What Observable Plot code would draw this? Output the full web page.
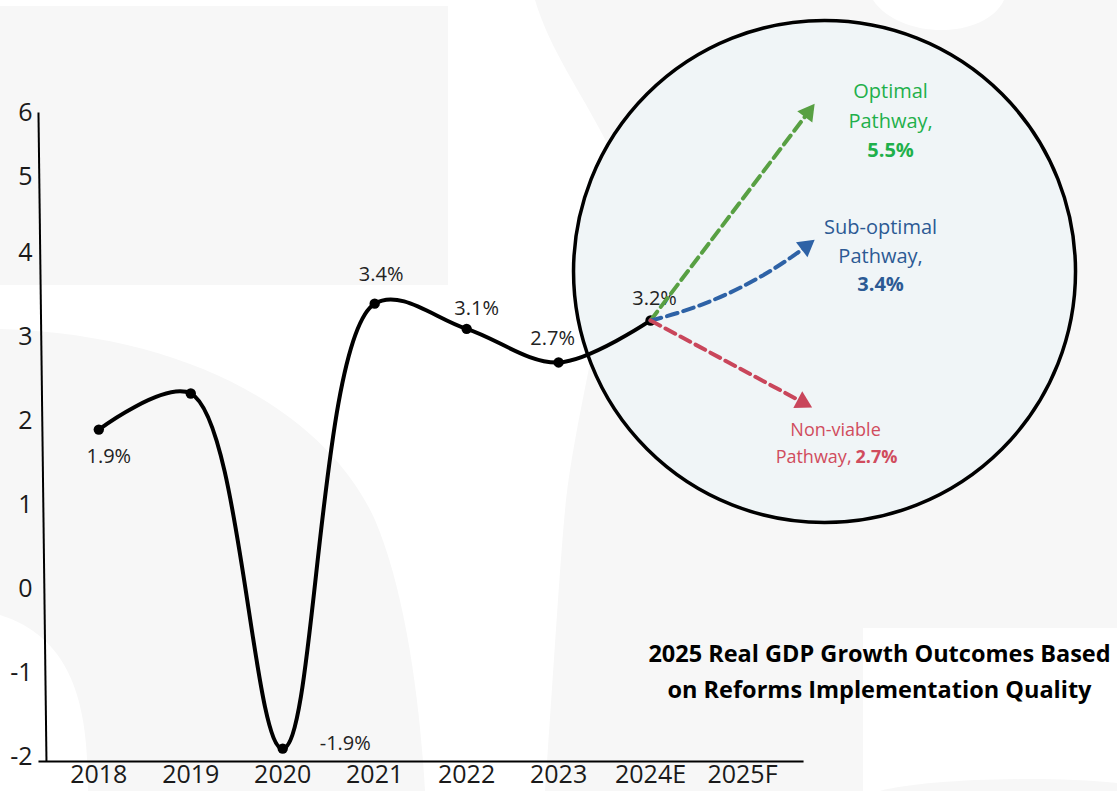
<!DOCTYPE html>
<html><head><meta charset="utf-8">
<script src="https://cdn.jsdelivr.net/npm/d3@7"></script>
<script src="https://cdn.jsdelivr.net/npm/@observablehq/plot@0.6"></script>
<style>
html,body{margin:0;padding:0;background:#fff;}
#wrap{position:relative;width:1117px;height:791px;overflow:hidden;font-family:"Open Sans",sans-serif;}
#bg{position:absolute;left:0;top:0;}
#chart{position:absolute;left:0;top:0;}
</style></head><body>
<div id="wrap">
<svg id="bg" width="1117" height="791" viewBox="0 0 1117 791">
  <g fill="#f7f7f7">
    <rect x="0" y="6" width="448" height="279"/>
    <path d="M0,329 C200,335 330,420 375,520 C405,590 420,700 425,791 L88,791 C88,720 80,640 0,615 Z"/>
    <path d="M535,0 L873,0 C900,40 985,40 1004,0 L1117,0 L1117,628 L863,628 L863,791 L545,791 C555,650 560,560 566,500 C580,380 630,230 607,143 C580,90 550,50 535,0 Z"/>
    <path d="M880,791 C920,780 1040,775 1117,783 L1117,791 Z"/>
  </g>
</svg>
<div id="chart"></div>
</div>
<script>
// ---- data ----
const categories = ["2018", "2019", "2020", "2021", "2022", "2023", "2024E", "2025F"];
const gdpGrowth = [1.9, 2.33, -1.9, 3.4, 3.1, 2.7, 3.2];
const gdpLabels = ["1.9%", "", "-1.9%", "3.4%", "3.1%", "2.7%", "3.2%"];
const yTicks = [-2, -1, 0, 1, 2, 3, 4, 5, 6];
const pathwayNames = ["Optimal", "Sub-optimal", "Non-viable"];
const pathwayValues = [5.5, 3.4, 2.7];
const titleText = "2025 Real GDP Growth Outcomes Based\non Reforms Implementation Quality";

// ---- layout (positions / styles) ----
const xOpts = {type: "linear", domain: [0, 7], range: [98.3, 742]};
const yOpts = {type: "linear", domain: [-2, 4, 5, 6], range: [756.5, 252.8, 176, 112]};
const startIdx = 6; // 2024E
const arrowEnds = [[7.713, 6.0], [7.691, 4.09], [7.653, 2.226]];
const arrowBend = [0, -12, 0];
const arrowColor = ["#58a043", "#2e62a6", "#c9465b"];
const textColor = ["#1fb04b", "#2c5a94", "#d04c5d"];
const FONT = "Open Sans";

const pts = gdpGrowth.map((v, i) => ({i, v, label: gdpLabels[i]}));
const start = {x: startIdx, y: gdpGrowth[startIdx]};

const sx = Plot.scale({x: xOpts});
const sy = Plot.scale({y: yOpts});
const paths = pathwayNames.map((name, k) => {
  const [ex, ey] = arrowEnds[k];
  const x0 = sx.apply(start.x), y0 = sy.apply(start.y);
  const x1 = sx.apply(ex), y1 = sy.apply(ey);
  const chord = Math.atan2(y1 - y0, x1 - x0) * 180 / Math.PI;
  const end = chord + arrowBend[k];
  return {k, name, value: pathwayValues[k], x1: start.x, y1: start.y, x2: ex, y2: ey, rot: end + 90};
});

const labelOffset = {
  0: {dx: 10, dy: 27, anchor: "middle"},
  2: {dx: 37, dy: -5, anchor: "start"},
  3: {dx: 6.5, dy: -29, anchor: "middle"},
  4: {dx: 10, dy: -20, anchor: "middle"},
  5: {dx: -6, dy: -24, anchor: "middle"},
  6: {dx: 4, dy: -22, anchor: "middle"}
};

const marks = [];
// highlight circle
marks.push(Plot.dot([0], {x: () => 7.892, y: () => 3.783, r: 251, fill: "#f0f5f7", stroke: "#000", strokeWidth: 3.5}));
// axis lines
marks.push(Plot.link([0], {x1: () => -0.656, y1: () => 6, x2: () => -0.569, y2: () => -2.054, stroke: "#000", strokeWidth: 2}));
marks.push(Plot.link([0], {x1: () => -0.656, y1: () => -2.054, x2: () => 7.664, y2: () => -2.054, stroke: "#000", strokeWidth: 2}));
// GDP line
marks.push(Plot.line(pts, {x: "i", y: "v", curve: "catmull-rom", stroke: "#000", strokeWidth: 4}));
marks.push(Plot.dot(pts, {x: "i", y: "v", r: 5.2, fill: "#000"}));
// value labels
Object.entries(labelOffset).forEach(([i, o]) => {
  marks.push(Plot.text(pts.filter(d => d.i === +i), {x: "i", y: "v", text: "label", dx: o.dx, dy: o.dy, textAnchor: o.anchor, fontSize: 20, fill: "#222", fontFamily: FONT}));
});
// pathway arrows
paths.forEach((p) => {
  marks.push(Plot.arrow([p], {x1: "x1", y1: "y1", x2: "x2", y2: "y2", bend: arrowBend[p.k], headLength: 0, stroke: arrowColor[p.k], strokeWidth: 4, strokeDasharray: "11,6"}));
  marks.push(Plot.dot([p], {x: "x2", y: "y2", symbol: "triangle", r: 7, rotate: "rot", fill: arrowColor[p.k], stroke: "none"}));
});
// pathway labels
const pw = paths;
marks.push(Plot.text([pw[0]], {x: "x2", y: "y2", text: d => d.name + "\nPathway,", dx: 82.5, dy: -9, lineHeight: 1.48, fontSize: 20, fill: textColor[0], fontFamily: FONT}));
marks.push(Plot.text([pw[0]], {x: "x2", y: "y2", text: d => d.value.toFixed(1) + "%", dx: 82.5, dy: 38.3, fontSize: 20, fontWeight: "bold", fill: textColor[0], fontFamily: FONT}));
marks.push(Plot.text([pw[1]], {x: "x2", y: "y2", text: d => d.name + "\nPathway,", dx: 74.5, dy: -7.5, lineHeight: 1.48, fontSize: 20, fill: textColor[1], fontFamily: FONT}));
marks.push(Plot.text([pw[1]], {x: "x2", y: "y2", text: d => d.value.toFixed(1) + "%", dx: 74.5, dy: 38, fontSize: 20, fontWeight: "bold", fill: textColor[1], fontFamily: FONT}));
marks.push(Plot.text([pw[2]], {x: "x2", y: "y2", text: d => d.name, dx: 33, dy: 28.1, fontSize: 18, fill: textColor[2], fontFamily: FONT}));
marks.push(Plot.text([pw[2]], {x: "x2", y: "y2", text: () => "Pathway,", dx: 49, dy: 54.6, textAnchor: "end", fontSize: 18, fill: textColor[2], fontFamily: FONT}));
marks.push(Plot.text([pw[2]], {x: "x2", y: "y2", text: d => d.value.toFixed(1) + "%", dx: 53, dy: 54.6, textAnchor: "start", fontSize: 18, fontWeight: "bold", fill: textColor[2], fontFamily: FONT}));
// title
marks.push(Plot.text([titleText], {frameAnchor: "bottom-right", text: d => d, dx: 76, dy: -93, textAnchor: "middle", lineAnchor: "middle", lineHeight: 1.53, fontSize: 23.5, fontWeight: "bold", fill: "#000", fontFamily: FONT}));

const chart = Plot.plot({
  width: 1117,
  height: 791,
  marginLeft: 38,
  marginRight: 314,
  marginTop: 112,
  marginBottom: 30,
  style: {background: "transparent", fontFamily: FONT, fontSize: "25px", color: "#1a1a1a", overflow: "visible"},
  x: {...xOpts, ticks: d3.range(categories.length), tickFormat: i => categories[i], tickSize: 0, tickPadding: 4, label: null},
  y: {...yOpts, ticks: yTicks, tickFormat: d => String(d), tickSize: 0, tickPadding: 6, label: null},
  marks
});
document.getElementById("chart").appendChild(chart);
</script>
</body></html>
